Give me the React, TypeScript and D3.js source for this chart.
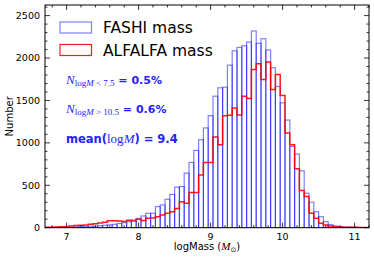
import { useRef, useEffect } from 'react'
import * as d3 from 'd3'

// histogram bins: start at 6.7, width 1/15 dex
const binStart = 6.7
const binWidth = 1 / 15

const fashiCounts = [
  2, 3, 3, 4, 5, 7, 9, 11, 14, 17, 20, 24, 29, 34, 40, 50, 59, 71, 91, 110,
  138, 170, 170, 249, 268, 335, 392, 478, 485, 643, 769, 911, 1037, 1176, 1321, 1550, 1649, 1656, 1916, 2085,
  2125, 2145, 2188, 2319, 2173, 2228, 2094, 1886, 1664, 1472, 1269, 958, 868, 671, 407, 300, 189, 130, 71, 35,
  20, 10, 6, 4, 3, 2, 1,
]

const alfalfaCounts = [
  5, 6, 8, 10, 12, 20, 25, 28, 32, 40, 47, 56, 64, 83, 83, 80, 72, 88, 80, 100,
  85, 111, 115, 130, 150, 170, 189, 225, 305, 289, 414, 414, 620, 769, 769, 1069, 978, 1321, 1325, 1410,
  1328, 1550, 1522, 1866, 1933, 1747, 1952, 1629, 1806, 1558, 1117, 978, 694, 438, 367, 170, 111, 52, 32, 20,
  12, 8, 6, 5, 4, 3, 2,
]

const xTicks = [7, 8, 9, 10, 11]
const yTicks = [0, 500, 1000, 1500, 2000, 2500]

export default function App() {
  const ref = useRef<SVGSVGElement>(null)

  useEffect(() => {
    const width = 374
    const height = 260
    const m = { left: 45, right: 369, top: 5, bottom: 227.7 }

    const svg = d3.select(ref.current)
    svg.selectAll('*').remove()
    svg.attr('width', width).attr('height', height)

    const x = d3.scaleLinear().domain([6.7, 11.2]).range([m.left, m.right])
    const y = d3.scaleLinear().domain([0, 2625]).range([m.bottom, m.top])

    svg.append('defs').append('clipPath').attr('id', 'plotclip')
      .append('rect')
      .attr('x', m.left).attr('y', m.top)
      .attr('width', m.right - m.left).attr('height', m.bottom - m.top)

    const plot = svg.append('g').attr('clip-path', 'url(#plotclip)')

    // FASHI: outlined bars, each drawn on its own so shared edges darken
    plot.selectAll('rect.fashi')
      .data(fashiCounts)
      .enter()
      .append('rect')
      .attr('class', 'fashi')
      .attr('x', (_, i) => x(binStart + i * binWidth))
      .attr('width', x(binStart + binWidth) - x(binStart))
      .attr('y', d => y(d))
      .attr('height', d => y(0) - y(d))
      .attr('fill', 'none')
      .attr('stroke', 'blue')
      .attr('stroke-opacity', 0.5)
      .attr('stroke-width', 1.2)

    // ALFALFA: step outline
    const pts: [number, number][] = [[binStart, 0]]
    alfalfaCounts.forEach((v, i) => {
      pts.push([binStart + i * binWidth, v])
      pts.push([binStart + (i + 1) * binWidth, v])
    })
    pts.push([binStart + alfalfaCounts.length * binWidth, 0])
    const line = d3.line<[number, number]>().x(d => x(d[0])).y(d => y(d[1]))
    plot.append('path')
      .attr('d', line(pts))
      .attr('fill', 'none')
      .attr('stroke', 'red')
      .attr('stroke-opacity', 0.9)
      .attr('stroke-width', 1.5)

    // frame
    svg.append('rect')
      .attr('x', m.left).attr('y', m.top)
      .attr('width', m.right - m.left).attr('height', m.bottom - m.top)
      .attr('fill', 'none').attr('stroke', 'black').attr('stroke-width', 1)

    // inward ticks on all sides
    const ticks = svg.append('g').attr('stroke', 'black').attr('stroke-width', 0.8)
    const xMinor = d3.range(6.8, 11.21, 0.2).filter(v => !xTicks.some(t => Math.abs(t - v) < 1e-6))
    const yMinor = d3.range(100, 2601, 100).filter(v => v % 500 !== 0)
    const tick = (x1: number, y1: number, x2: number, y2: number) =>
      ticks.append('line').attr('x1', x1).attr('y1', y1).attr('x2', x2).attr('y2', y2)
    xTicks.forEach(v => { tick(x(v), m.bottom, x(v), m.bottom - 5); tick(x(v), m.top, x(v), m.top + 5) })
    xMinor.forEach(v => { tick(x(v), m.bottom, x(v), m.bottom - 2.5); tick(x(v), m.top, x(v), m.top + 2.5) })
    yTicks.forEach(v => { tick(m.left, y(v), m.left + 5, y(v)); tick(m.right, y(v), m.right - 5, y(v)) })
    yMinor.forEach(v => { tick(m.left, y(v), m.left + 2.5, y(v)); tick(m.right, y(v), m.right - 2.5, y(v)) })

    const font = 'DejaVu Sans, sans-serif'
    svg.append('g').selectAll('text')
      .data(xTicks).enter().append('text')
      .attr('x', d => x(d)).attr('y', 240)
      .attr('text-anchor', 'middle')
      .style('font-family', font).style('font-size', '9.5px')
      .text(d => d)
    svg.append('g').selectAll('text')
      .data(yTicks).enter().append('text')
      .attr('x', 40).attr('y', d => y(d) + 3.4)
      .attr('text-anchor', 'end')
      .style('font-family', font).style('font-size', '9.5px')
      .text(d => d)

    // axis labels
    svg.append('text')
      .attr('transform', `translate(13, ${(m.top + m.bottom) / 2}) rotate(-90)`)
      .attr('text-anchor', 'middle')
      .style('font-family', font).style('font-size', '10px')
      .text('Number')

    const xl = svg.append('text')
      .attr('x', (m.left + m.right) / 2).attr('y', 249.5)
      .attr('text-anchor', 'middle')
      .style('font-family', font).style('font-size', '10px')
    xl.append('tspan').text('logMass (')
    xl.append('tspan').style('font-family', 'Liberation Serif, serif').style('font-style', 'italic').style('font-size', '11px').text('M')
    xl.append('tspan').attr('dy', 2).style('font-size', '7px').text('⊙')
    xl.append('tspan').attr('dy', -2).text(')')

    // legend
    const legend = [
      { label: 'FASHI mass', color: 'blue', opacity: 0.5, y: 22 },
      { label: 'ALFALFA mass', color: 'red', opacity: 0.9, y: 44.5 },
    ]
    legend.forEach(d => {
      svg.append('rect')
        .attr('x', 60).attr('y', d.y).attr('width', 31.5).attr('height', 11)
        .attr('fill', 'none').attr('stroke', d.color)
        .attr('stroke-opacity', d.opacity).attr('stroke-width', 1.2)
      svg.append('text')
        .attr('x', 103).attr('y', d.y + 11.3)
        .style('font-family', font).style('font-size', '15.5px')
        .text(d.label)
    })

    // annotations
    const blue = '#2222ff'
    const serif = 'Liberation Serif, serif'
    const note = (yPos: number, sub: string, val: string) => {
      const t = svg.append('text').attr('x', 66).attr('y', yPos).attr('fill', blue)
      t.append('tspan').style('font-family', serif).style('font-style', 'italic').style('font-size', '13px').text('N')
      const s = t.append('tspan').attr('dy', 2.5).style('font-family', serif).style('font-size', '9px')
      s.text('log')
      t.append('tspan').style('font-family', serif).style('font-style', 'italic').style('font-size', '9px').text('M')
      t.append('tspan').style('font-family', serif).style('font-size', '9px').text(sub)
      t.append('tspan').attr('dy', -2.5).style('font-family', font).style('font-weight', 'bold').style('font-size', '11px')
        .text(' = ' + val)
    }
    note(83.5, ' < 7.5', '0.5%')
    note(112.5, ' > 10.5', '0.6%')

    const mt = svg.append('text').attr('x', 66).attr('y', 142.5).attr('fill', blue)
      .style('font-family', font).style('font-weight', 'bold').style('font-size', '11.5px')
    mt.append('tspan').text('mean(')
    mt.append('tspan').style('font-family', serif).style('font-weight', 'normal').style('font-size', '13px').text('log')
    mt.append('tspan').style('font-family', serif).style('font-weight', 'normal').style('font-style', 'italic').style('font-size', '13px').text('M')
    mt.append('tspan').text(') = 9.4')
  }, [])

  return (
    <div style={{ position: 'absolute', left: 0, top: 0 }}>
      <svg ref={ref} style={{ display: 'block', background: 'white' }} />
    </div>
  )
}
